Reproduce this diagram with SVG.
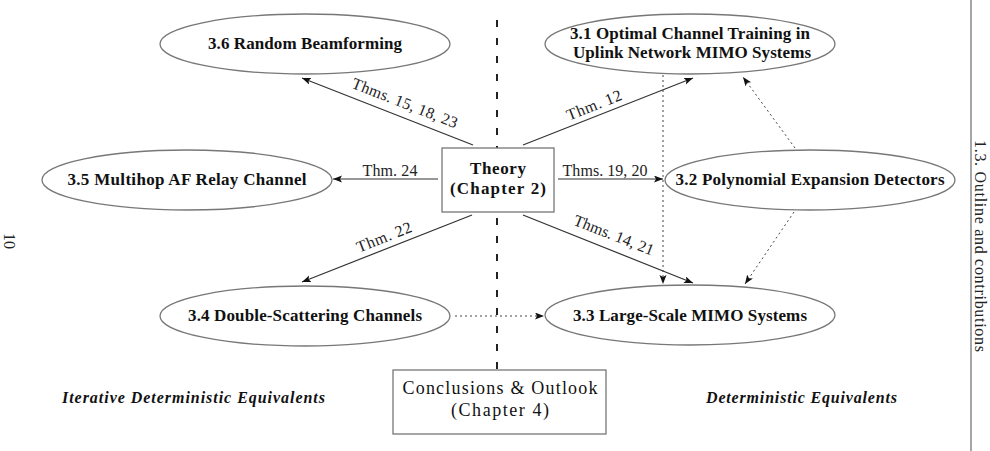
<svg xmlns="http://www.w3.org/2000/svg" width="990" height="451" viewBox="0 0 990 451">
<style>
.ell{fill:#fff;stroke:#777;stroke-width:1.3}
.box{fill:#fff;stroke:#777;stroke-width:1.3}
.b{font-family:"Liberation Serif",serif;font-weight:bold;font-size:17px;fill:#111}
.n{font-family:"Liberation Serif",serif;font-size:16px;fill:#222}
.c{font-family:"Liberation Serif",serif;font-size:18px;fill:#111}
.bi{font-family:"Liberation Serif",serif;font-weight:bold;font-style:italic;font-size:16px;fill:#111}
.edge{stroke:#333;stroke-width:1.2;fill:none}
.dot{stroke:#444;stroke-width:1;fill:none;stroke-dasharray:2 3}
</style>
<defs>
<marker id="ah" markerUnits="userSpaceOnUse" markerWidth="10" markerHeight="8" refX="9" refY="3.5" orient="auto">
<path d="M0,0 L9,3.5 L0,7 L2,3.5 z" fill="#111"/>
</marker>
</defs>
<rect width="990" height="451" fill="#fff"/>
<line x1="497" y1="20" x2="497" y2="370" stroke="#222" stroke-width="2" stroke-dasharray="7 11"/>
<line x1="971" y1="0" x2="971" y2="451" stroke="#888" stroke-width="1.5"/>
<text class="n" font-size="14" transform="translate(975,140) rotate(90)" textLength="212">1.3.  Outline and contributions</text>
<text class="n" font-size="13" transform="translate(4,233) rotate(90)">10</text>
<g id="connectors">
<line class="edge" x1="473" y1="145" x2="302" y2="78" marker-end="url(#ah)"/>
<line class="edge" x1="523" y1="145" x2="693" y2="78" marker-end="url(#ah)"/>
<line class="edge" x1="438" y1="179" x2="333" y2="179" marker-end="url(#ah)"/>
<line class="edge" x1="558" y1="179" x2="663" y2="179" marker-end="url(#ah)"/>
<line class="edge" x1="472" y1="215" x2="302" y2="282" marker-end="url(#ah)"/>
<line class="edge" x1="523" y1="215" x2="693" y2="283" marker-end="url(#ah)"/>
<line class="dot" x1="663" y1="75" x2="663" y2="284" marker-end="url(#ah)"/>
<line class="dot" x1="795" y1="148" x2="743" y2="77" marker-end="url(#ah)"/>
<line class="dot" x1="794" y1="212" x2="745" y2="284" marker-end="url(#ah)"/>
<line class="dot" x1="455" y1="316" x2="544" y2="316" marker-end="url(#ah)"/>
<text class="n" transform="translate(403,108) rotate(21.4)" text-anchor="middle" textLength="112">Thms. 15, 18, 23</text>
<text class="n" transform="translate(596,110) rotate(-21.5)" text-anchor="middle" textLength="58">Thm. 12</text>
<text class="n" x="390" y="176" text-anchor="middle" textLength="55">Thm. 24</text>
<text class="n" x="605" y="176" text-anchor="middle" textLength="85">Thms. 19, 20</text>
<text class="n" transform="translate(386,242) rotate(-21.5)" text-anchor="middle" textLength="58">Thm. 22</text>
<text class="n" transform="translate(612,240) rotate(21.5)" text-anchor="middle" textLength="85">Thms. 14, 21</text>
</g>
<g id="n36">
<ellipse class="ell" cx="305" cy="44" rx="145" ry="30"/>
<text class="b" x="305" y="49" text-anchor="middle" textLength="194">3.6 Random Beamforming</text>
</g>
<g id="n31">
<ellipse class="ell" cx="690" cy="44" rx="145" ry="30"/>
<text class="b" x="690" y="39" text-anchor="middle" textLength="240">3.1 Optimal Channel Training in</text>
<text class="b" x="692" y="58" text-anchor="middle" textLength="238">Uplink Network MIMO Systems</text>
</g>
<g id="n35">
<ellipse class="ell" cx="187" cy="180" rx="145" ry="30"/>
<text class="b" x="187" y="185" text-anchor="middle" textLength="239">3.5 Multihop AF Relay Channel</text>
</g>
<g id="n32">
<ellipse class="ell" cx="810" cy="180" rx="145" ry="30"/>
<text class="b" x="810" y="185" text-anchor="middle" textLength="269">3.2 Polynomial Expansion Detectors</text>
</g>
<g id="n34">
<ellipse class="ell" cx="305" cy="316" rx="145" ry="30"/>
<text class="b" x="305" y="321" text-anchor="middle" textLength="234">3.4 Double-Scattering Channels</text>
</g>
<g id="n33">
<ellipse class="ell" cx="690" cy="315" rx="145" ry="30"/>
<text class="b" x="690" y="321" text-anchor="middle" textLength="234">3.3 Large-Scale MIMO Systems</text>
</g>
<g id="theory">
<rect class="box" x="442" y="148" width="112" height="64"/>
<text class="b" x="498" y="174" text-anchor="middle" textLength="56">Theory</text>
<text class="b" x="498" y="194" text-anchor="middle" textLength="96">(Chapter 2)</text>
</g>
<g id="conclusions">
<rect class="box" x="393" y="370" width="213" height="64"/>
<text class="c" x="500" y="394" text-anchor="middle" textLength="195">Conclusions &amp; Outlook</text>
<text class="c" x="500" y="416" text-anchor="middle" textLength="98">(Chapter 4)</text>
</g>
<g id="labels">
<text class="bi" x="62" y="403" textLength="263">Iterative Deterministic Equivalents</text>
<text class="bi" x="706" y="403" textLength="191">Deterministic Equivalents</text>
</g>
</svg>
